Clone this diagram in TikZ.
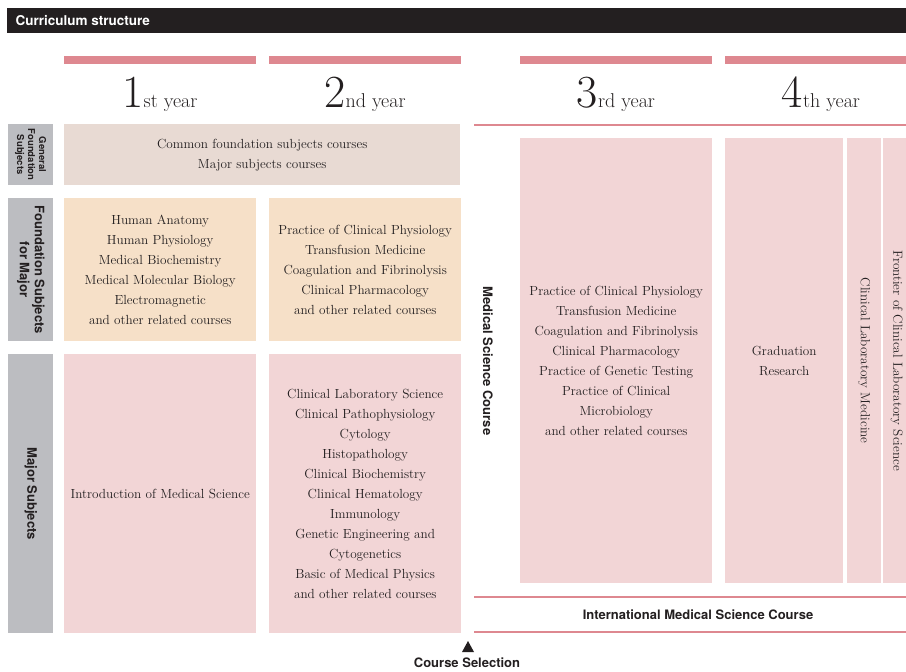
\documentclass[tikz,border=0pt]{standalone}
\usepackage{fontspec}
\newfontfamily\heros{TeX Gyre Heros}
\definecolor{barpink}{HTML}{DE8890}
\definecolor{boxpink}{HTML}{F2D5D6}
\definecolor{boxbeige}{HTML}{E8DAD3}
\definecolor{boxorange}{HTML}{F6E0C8}
\definecolor{tabgrey}{HTML}{BCBDC1}
\definecolor{ink}{HTML}{231F20}
\tikzset{
	box/.style={anchor=north west, inner sep=0pt, align=center, text=ink,
		font=\fontsize{13.2}{20}\selectfont},
	tab/.style={box, fill=tabgrey},
	tablabel/.style={rotate=-90, align=center, text=ink,
		font=\heros\bfseries\fontsize{13}{15}\selectfont},
	yearlabel/.style={anchor=base, text=ink, inner sep=0pt},
}
\newcommand{\yr}[2]{{\fontsize{46}{46}\selectfont #1}{\fontsize{20}{20}\selectfont #2 year}}
\begin{document}
\begin{tikzpicture}[x=1pt, y=-1pt]
	\useasboundingbox (0,0) rectangle (906,672);
	\fill[ink] (7,8) rectangle (906,33);
	\node[anchor=west, text=white, font=\heros\bfseries\fontsize{13.5}{13.5}\selectfont] (title) at (12,21) {Curriculum structure};

	% year headings
	\foreach \x/\w in {64/192, 269/192, 520/192, 725/181}
	{
		\fill[barpink] (\x,56) rectangle ++(\w,8);
	}
	\node[yearlabel] (y1) at (160,107) {\yr{1}{st}};
	\node[yearlabel] (y2) at (365,107) {\yr{2}{nd}};
	\node[yearlabel] (y3) at (616,107) {\yr{3}{rd}};
	\node[yearlabel] (y4) at (821,107) {\yr{4}{th}};
	\draw[barpink, line width=2pt] (474,125) -- (906,125);

	% row tabs
	\node[tab, minimum width=45, minimum height=61] (gtab) at (8,124) {};
	\node[tablabel, font=\heros\bfseries\fontsize{9.5}{11}\selectfont] (gtxt) at (gtab.center) {General\\Foundation\\Subjects};
	\node[tab, minimum width=45, minimum height=143] (ftab) at (8,198) {};
	\node[tablabel] (ftxt) at (ftab.center) {Foundation Subjects\\for Major};
	\node[tab, minimum width=45, minimum height=279] (mtab) at (8,354) {};
	\node[tablabel] (mtxt) at (mtab.center) {Major Subjects};

	% 1st and 2nd year
	\node[box, fill=boxbeige, minimum width=396, minimum height=61] (common) at (64,124)
		{Common foundation subjects courses\\Major subjects courses};
	\node[box, fill=boxorange, minimum width=192, minimum height=143] (found1) at (64,198)
		{Human Anatomy\\Human Physiology\\Medical Biochemistry\\Medical Molecular Biology\\Electromagnetic\\and other related courses};
	\node[box, fill=boxorange, minimum width=192, minimum height=143] (found2) at (269,198)
		{Practice of Clinical Physiology\\Transfusion Medicine\\Coagulation and Fibrinolysis\\Clinical Pharmacology\\and other related courses};
	\node[box, fill=boxpink, minimum width=192, minimum height=279] (major1) at (64,354)
		{Introduction of Medical Science};
	\node[box, fill=boxpink, minimum width=192, minimum height=279] (major2) at (269,354)
		{Clinical Laboratory Science\\Clinical Pathophysiology\\Cytology\\Histopathology\\Clinical Biochemistry\\Clinical Hematology\\Immunology\\Genetic Engineering and\\Cytogenetics\\Basic of Medical Physics\\and other related courses};

	% 3rd and 4th year
	\node[tablabel] (msc) at (488,361) {Medical Science Course};
	\node[box, fill=boxpink, minimum width=192, minimum height=445] (third) at (520,138)
		{Practice of Clinical Physiology\\Transfusion Medicine\\Coagulation and Fibrinolysis\\Clinical Pharmacology\\Practice of Genetic Testing\\Practice of Clinical\\Microbiology\\and other related courses};
	\node[box, fill=boxpink, minimum width=118, minimum height=445] (grad) at (725,138)
		{Graduation\\Research};
	\node[box, fill=boxpink, minimum width=34, minimum height=445] (clm) at (847,138) {};
	\node[rotate=-90, text=ink, font=\fontsize{13.2}{13.2}\selectfont] (clmtxt) at (clm.center) {Clinical Laboratory Medicine};
	\node[box, fill=boxpink, minimum width=23, minimum height=445] (fcls) at (883,138) {};
	\node[rotate=-90, text=ink, font=\fontsize{13.2}{13.2}\selectfont] (fclstxt) at ([xshift=2]fcls.center) {Frontier of Clinical Laboratory Science};

	% international course
	\draw[barpink, line width=1.5pt] (474,597) -- (906,597);
	\draw[barpink, line width=1.5pt] (474,632) -- (906,632);
	\node[text=ink, font=\heros\bfseries\fontsize{13}{13}\selectfont] (imsc) at (698,615) {International Medical Science Course};

	% course selection
	\node[text=ink, font=\heros\bfseries\fontsize{13}{13}\selectfont] (sel) at (467,663) {Course Selection};
	\fill[ink] (462,652) -- (474,652) -- (468,641) -- cycle;
\end{tikzpicture}
\end{document}
